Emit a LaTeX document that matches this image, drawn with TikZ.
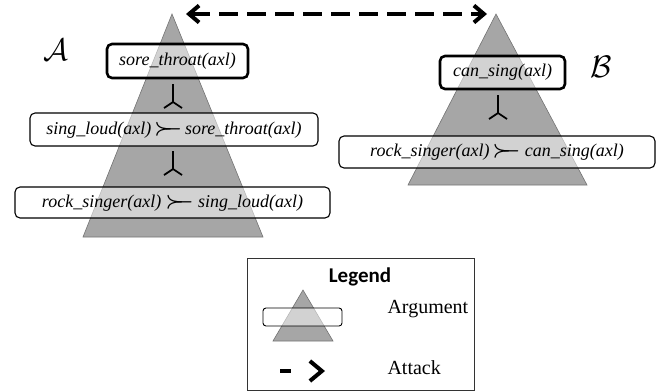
\documentclass[tikz,border=0pt]{standalone}
\usepackage{fontspec}
\setmainfont{Liberation Serif}[ItalicFont=Liberation Serif Italic]
\newfontfamily\legendfont{Carlito}
\usetikzlibrary{arrows.meta}

\newcommand{\argtext}{\fontsize{18}{20}\selectfont\itshape}
\newcommand{\dfs}{{\fontsize{21}{21}\selectfont\boldmath$\mathord{\succ}\mkern-7mu\mathord{-}$}}

\begin{document}
\begin{tikzpicture}[x=1pt,y=1pt,
  tri/.style={fill=black!35,draw=black!55,line width=0.6pt},
  arg/.style={draw,rounded corners=5pt,fill=white,fill opacity=0.5,text opacity=1,line width=1.1pt,inner sep=0pt,font=\argtext},
  concl/.style={arg,line width=2.6pt},
  attack/.style={line width=4pt,dash pattern=on 19pt off 9pt},
  barb/.tip={Straight Barb[length=10pt,width=17pt]},
  setname/.style={font=\fontsize{24.88}{25}\selectfont,scale=1.25,transform shape},
  vfork/.pic={\draw[line width=1.8pt] (0,12) -- (0,-6) (-9,-12) -- (0,-6) -- (9,-12);}]
\useasboundingbox (0,0) rectangle (667,-391);

% argument A
\draw[tri] (172,-14) coordinate (topA) -- (263,-237) -- (83,-237) -- cycle;
\node[concl,minimum width=141pt,minimum height=34pt] (soreA) at (177.5,-61) {sore\_throat(axl)};
\pic (forkA1) at (173,-96) {vfork};
\node[arg,minimum width=288pt,minimum height=33pt] (loudA) at (174,-129.5) {sing\_loud(axl)\,\dfs\,sore\_throat(axl)};
\pic (forkA2) at (173,-163) {vfork};
\node[arg,minimum width=315pt,minimum height=31pt] (rockA) at (172.5,-202.5) {rock\_singer(axl) \dfs\ sing\_loud(axl)};
\node[setname] (labA) at (56,-50) {$\mathcal{A}$};

% argument B
\draw[tri] (496,-14) coordinate (topB) -- (587,-185) -- (408,-185) -- cycle;
\node[concl,minimum width=125pt,minimum height=33pt] (singB) at (502.5,-72.5) {can\_sing(axl)};
\pic (forkB) at (498,-107) {vfork};
\node[arg,minimum width=316pt,minimum height=32pt] (rockB) at (497,-152) {rock\_singer(axl)\,\dfs\ can\_sing(axl)};
\node[setname] (labB) at (601,-67) {$\mathcal{B}$};

% attack
\draw[attack,barb-barb,shorten <=14pt,shorten >=9pt] (topA) -- (topB);

% legend
\node[draw=black!80,line width=0.8pt,minimum width=227pt,minimum height=132pt] (legend) at (360.5,-324) {};
\node[font=\legendfont\bfseries\fontsize{21}{24}\selectfont] (legtitle) at (360,-277) {Legend};
\draw[tri] (303,-290) -- (333,-341) -- (273,-341) -- cycle;
\node[arg,line width=0.9pt,rounded corners=3pt,minimum width=79pt,minimum height=18pt] (legarg) at (302.5,-317) {};
\node[anchor=west,font=\fontsize{20}{22}\selectfont] (argtxt) at (384,-309) {Argument};
\coordinate (legA) at (280,-371);
\coordinate (legB) at (325,-371);
\draw[attack,dash pattern=on 11pt off 30pt,-{Straight Barb[length=12pt,width=20pt]}] (legA) -- (legB);
\node[anchor=west,font=\fontsize{20}{22}\selectfont] (atktxt) at (384,-368) {Attack};
\end{tikzpicture}
\end{document}
